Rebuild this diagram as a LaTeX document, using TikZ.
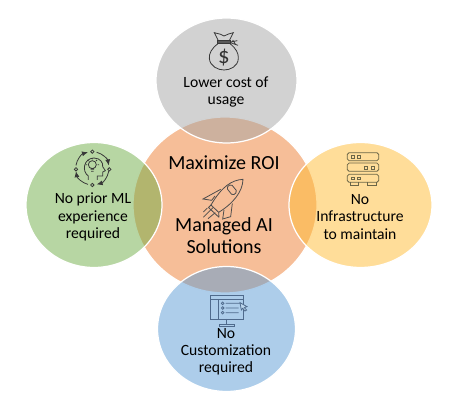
\documentclass[tikz,border=0pt]{standalone}
\usepackage{fontspec}
\setmainfont{Carlito}
\usepackage{xcolor}
\usetikzlibrary{shapes.geometric,arrows.meta}
\definecolor{hubfill}{HTML}{ED7D31}
\definecolor{costfill}{HTML}{A5A5A5}
\definecolor{skillfill}{HTML}{70AD47}
\definecolor{infrafill}{HTML}{FFBB33}
\definecolor{customfill}{HTML}{5B9BD5}
\definecolor{rackline}{HTML}{6B6648}
\definecolor{screenline}{HTML}{4F6A8C}
\tikzset{
disc/.style={ellipse,draw=white,line width=0.7pt,fill opacity=0.5,inner sep=0pt},
hubtext/.style={align=center,text=black,font=\fontsize{11.4}{12.6}\selectfont},
disctext/.style={align=center,text=black,font=\fontsize{8.9}{9.8}\selectfont},
iconline/.style={line width=0.45pt,draw=#1},
iconline/.default={black!78},
ringarrow/.style={iconline,-{Latex[length=1.2mm,width=1mm]}}
}
\begin{document}
\begin{tikzpicture}[
x=0.02cm,
y=-0.02cm
]
\useasboundingbox (0,0) rectangle (449,404);
\node[disc,fill=hubfill,minimum width=3.68cm,minimum height=3.52cm] (hub) at (225,205) {};
\node[disc,fill=costfill,minimum width=2.82cm,minimum height=2.5cm] (cost) at (226.5,80.5) {};
\node[disc,fill=skillfill,minimum width=2.72cm,minimum height=2.5cm] (skill) at (94,205) {};
\node[disc,fill=infrafill,minimum width=2.86cm,minimum height=2.5cm] (infra) at (360.5,205) {};
\node[disc,fill=customfill,minimum width=2.76cm,minimum height=2.5cm] (custom) at (226.5,329) {};
\node[hubtext] (roi) at (224,163) {Maximize ROI};
\node[hubtext] (managed) at (224,236) {Managed AI\\Solutions};
\node[disctext] (costtext) at (226,92) {Lower cost of\\usage};
\node[disctext] (skilltext) at (93,217) {No prior ML\\experience\\required};
\node[disctext] (infratext) at (360,217) {No\\Infrastructure\\to maintain};
\node[disctext] (customtext) at (226,352) {No\\Customization\\required};
% money bag
\begin{scope}[shift={(150,0)},scale=1/3]
\draw[iconline] (193,98) -- (212,103) -- (222,108) -- (236,102) -- (250,98) -- (238,122) -- (205,122) -- cycle;
\draw[iconline,fill=black!65] (201,122) -- (241,122) -- (241,130) -- (201,130) -- cycle;
\draw[iconline] (204,131) .. controls (185,145) and (177,160) .. (178,175) .. controls (180,200) and (205,210) .. (222,210) .. controls (240,210) and (264,200) .. (265,175) .. controls (266,160) and (258,145) .. (240,131);
\draw[iconline] (241,126) -- (262,122) (241,128) -- (264,136) (248,120) -- (256,132);
\node[text=black!80,inner sep=0pt,font=\fontsize{13}{13}\selectfont] (dollar) at (222,172) {\$};
\end{scope}
% head with bulb
\begin{scope}[shift={(20,130)},scale=1/3]
\draw[ringarrow] (217,115) ++(-170:50) arc (-170:-105:50);
\draw[ringarrow] (217,115) ++(-75:50) arc (-75:-10:50);
\draw[ringarrow] (217,115) ++(10:50) arc (10:75:50);
\draw[ringarrow] (217,115) ++(105:50) arc (105:170:50);
\draw[iconline] (217,65) circle (5) (168,118) circle (5) (268,118) circle (5) (217,165) circle (5);
\draw[iconline] (205,150) -- (205,138) .. controls (185,125) and (190,85) .. (222,84) .. controls (242,84) and (250,100) .. (248,110) -- (256,122) -- (248,126) -- (248,138) -- (232,138) -- (232,150);
\draw[iconline] (217,104) circle (12) (212,118) -- (222,118) (213,124) -- (221,124);
\draw[iconline] (217,84) -- (217,88) (197,104) -- (201,104) (233,104) -- (237,104) (203,90) -- (206,93) (231,90) -- (228,93);
\end{scope}
% rocket
\begin{scope}[shift={(150,120)},scale=1/3]
\draw[iconline=black!70] (279,178) .. controls (245,180) and (215,200) .. (183,255) -- (206,277) .. controls (250,250) and (278,215) .. (279,178) -- cycle;
\draw[iconline=black!70,rounded corners=1pt] (229,203) -- (243,192) -- (262,215) -- (248,227) -- cycle;
\draw[iconline=black!70] (212,208) -- (159,237) -- (185,241) -- (195,228);
\draw[iconline=black!70] (247,250) -- (242,290) -- (218,297) -- (222,270);
\draw[iconline=black!70] (175,262) -- (207,292) (183,255) -- (176,262) (206,277) -- (207,292);
\draw[iconline=black!70] (190,262) -- (160,292) (172,264) -- (160,276) (196,278) -- (174,296);
\end{scope}
% server rack
\begin{scope}[shift={(290,130)},scale=1/3]
\draw[iconline=rackline,rounded corners=1pt] (172,68) rectangle (266,92) (172,99) rectangle (266,124) (172,133) rectangle (266,157);
\draw[iconline=rackline] (180,157) -- (180,165) -- (205,165) -- (205,157) (233,157) -- (233,165) -- (258,165) -- (258,157);
\foreach \sqx/\sqy in {188/80,207/80,228/113,248/113,188/145,207/145}{
  \draw[iconline=rackline] (\sqx-4,\sqy-4) rectangle (\sqx+4,\sqy+4);
}
\end{scope}
% monitor with cursor
\begin{scope}[shift={(150,270)},scale=1/3]
\draw[iconline=screenline] (182,76) rectangle (280,147) (182,88) -- (280,88) (205,88) -- (205,147);
\draw[iconline=screenline] (230,147) -- (230,162) (208,163) rectangle (254,169);
\foreach \rowy/\rowx in {100/270,114/266,128/266}{
  \draw[iconline=screenline] (218,\rowy) circle (4) (227,\rowy) -- (\rowx,\rowy);
}
\draw[iconline=screenline,fill=customfill!40] (270,98) -- (291,110) -- (283,113) -- (290,120) -- (285,123) -- (278,115) -- (274,120) -- cycle;
\end{scope}
\end{tikzpicture}
\end{document}
